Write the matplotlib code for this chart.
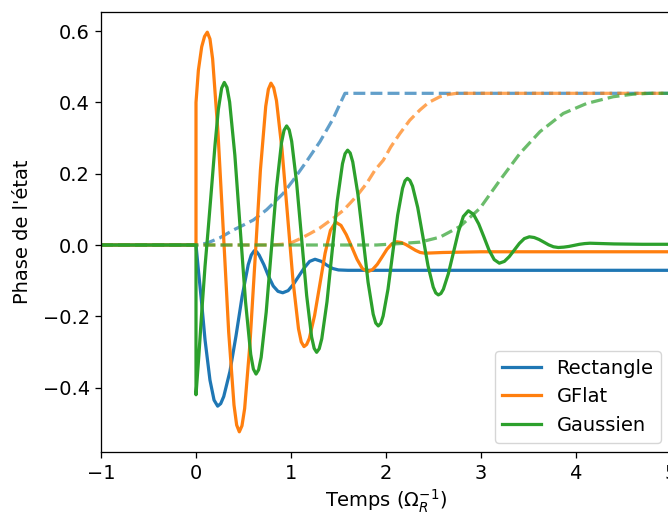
import matplotlib
matplotlib.use("Agg")
import matplotlib.pyplot as plt

# values
LABELS = ["Rectangle", "GFlat", "Gaussien"]

# Rectangle: phase (solid) and accumulated phase (dashed)
rect_t = [-1, 0, 0.025, 0.06, 0.095, 0.147, 0.19, 0.228, 0.26, 0.292, 0.357, 0.421, 0.485, 0.550,
          0.582, 0.614, 0.639, 0.664, 0.714, 0.764, 0.813, 0.863, 0.913, 0.970, 1.026, 1.083,
          1.140, 1.196, 1.253, 1.32, 1.38, 1.44, 1.50, 1.6, 5]
rect_y = [0, 0, -0.07, -0.164, -0.266, -0.379, -0.435, -0.452, -0.445, -0.425, -0.355, -0.255,
          -0.145, -0.055, -0.028, -0.016, -0.019, -0.028, -0.055, -0.088, -0.115, -0.130, -0.134,
          -0.128, -0.110, -0.087, -0.064, -0.046, -0.040, -0.046, -0.057, -0.066, -0.070, -0.071,
          -0.071]
rect_acc_t = [-1, 0, 0.113, 0.25, 0.393, 0.5, 0.603, 0.744, 0.919, 1.024, 1.165, 1.305, 1.445,
              1.516, 1.568, 5]
rect_acc_y = [0, 0, 0.005, 0.02, 0.042, 0.056, 0.070, 0.099, 0.145, 0.182, 0.235, 0.290, 0.355,
              0.396, 0.4255, 0.4255]

# GFlat
gflat_t = [-1, 0, 0, 0.025, 0.06, 0.09, 0.119, 0.147, 0.175, 0.231, 0.288, 0.344, 0.400, 0.428,
           0.456, 0.484, 0.512, 0.567, 0.623, 0.678, 0.734, 0.762, 0.789, 0.818, 0.847, 0.905,
           0.963, 1.021, 1.079, 1.108, 1.137, 1.165, 1.193, 1.248, 1.304, 1.359, 1.415, 1.47,
           1.526, 1.582, 1.639, 1.695, 1.751, 1.807, 1.858, 1.909, 1.960, 2.010, 2.061, 2.112,
           2.162, 2.211, 2.261, 2.311, 2.360, 2.41, 2.6, 3.0, 5]
gflat_y = [0, 0, 0.40, 0.49, 0.556, 0.585, 0.597, 0.578, 0.522, 0.317, 0.037, -0.244, -0.449,
           -0.505, -0.524, -0.507, -0.459, -0.280, -0.035, 0.210, 0.389, 0.437, 0.454, 0.441,
           0.405, 0.269, 0.085, -0.100, -0.235, -0.272, -0.285, -0.279, -0.262, -0.198, -0.110,
           -0.023, 0.041, 0.064, 0.055, 0.029, -0.005, -0.040, -0.066, -0.075, -0.069, -0.054,
           -0.033, -0.012, 0.003, 0.009, 0.007, 0.001, -0.007, -0.015, -0.021, -0.023, -0.021,
           -0.019, -0.019]
gflat_acc_t = [-1, 0, 0.8, 0.9, 1.0, 1.1, 1.2, 1.3, 1.445, 1.55, 1.621, 1.7, 1.797, 1.884, 1.972,
               2.05, 2.147, 2.25, 2.358, 2.45, 2.568, 2.65, 2.744, 5]
gflat_acc_y = [0, 0, 0, 0.002, 0.006, 0.018, 0.032, 0.047, 0.075, 0.097, 0.117, 0.14, 0.173,
               0.21, 0.238, 0.275, 0.313, 0.35, 0.379, 0.40, 0.416, 0.422, 0.4255, 0.4255]

# Gaussien
gauss_t = [-1, 0, 0, 0.03, 0.06, 0.095, 0.13, 0.165, 0.2, 0.235, 0.27, 0.298, 0.326, 0.354,
           0.409, 0.465, 0.521, 0.576, 0.604, 0.632, 0.659, 0.686, 0.739, 0.793, 0.847, 0.900,
           0.927, 0.954, 0.981, 1.007, 1.059, 1.112, 1.165, 1.217, 1.244, 1.27, 1.297, 1.324,
           1.379, 1.433, 1.487, 1.542, 1.569, 1.596, 1.623, 1.650, 1.704, 1.758, 1.811, 1.865,
           1.892, 1.919, 1.945, 1.970, 2.021, 2.072, 2.123, 2.174, 2.200, 2.225, 2.252, 2.279,
           2.334, 2.388, 2.442, 2.497, 2.524, 2.551, 2.578, 2.604, 2.656, 2.709, 2.762, 2.814,
           2.867, 2.921, 2.976, 3.030, 3.084, 3.139, 3.193, 3.246, 3.298, 3.351, 3.404, 3.456,
           3.509, 3.560, 3.611, 3.662, 3.712, 3.763, 3.814, 3.870, 3.925, 3.981, 4.036, 4.092,
           4.147, 4.4, 4.7, 5]
gauss_y = [0, 0, -0.42, -0.31, -0.19, -0.06, 0.05, 0.164, 0.28, 0.38, 0.44, 0.456, 0.442, 0.401,
           0.252, 0.047, -0.158, -0.307, -0.348, -0.362, -0.350, -0.315, -0.188, -0.014, 0.160,
           0.287, 0.322, 0.334, 0.323, 0.291, 0.175, 0.017, -0.142, -0.258, -0.290, -0.301,
           -0.291, -0.263, -0.159, -0.018, 0.124, 0.228, 0.256, 0.266, 0.258, 0.233, 0.143, 0.020,
           -0.104, -0.194, -0.219, -0.227, -0.220, -0.199, -0.124, -0.020, 0.084, 0.159, 0.180,
           0.187, 0.181, 0.165, 0.105, 0.024, -0.058, -0.118, -0.1345, -0.140, -0.136, -0.124,
           -0.081, -0.022, 0.037, 0.080, 0.096, 0.086, 0.059, 0.023, -0.014, -0.041, -0.051,
           -0.046, -0.0325, -0.014, 0.0045, 0.018, 0.023, 0.021, 0.0155, 0.008, 0.0005, -0.005,
           -0.007, -0.006, -0.004, -0.001, 0.002, 0.004, 0.005, 0.003, 0.002, 0.002]
gauss_acc_t = [-1, 0, 1.9, 2.147, 2.358, 2.568, 2.779, 2.989, 3.2, 3.41, 3.621, 3.866, 4.112,
               4.393, 4.6, 4.779, 5]
gauss_acc_y = [0, 0, 0, 0.004, 0.008, 0.022, 0.052, 0.103, 0.182, 0.257, 0.318, 0.369, 0.397,
               0.416, 0.423, 0.4255, 0.4255]

COLORS = ["#1f77b4", "#ff7f0e", "#2ca02c"]
S = 1.16          # reference was rendered at ~116 dpi, we draw at 100
FS = 12 * S

plt.rcParams.update({"font.size": FS,
                     "xtick.major.size": 3.5 * S, "ytick.major.size": 3.5 * S,
                     "xtick.major.width": 0.8 * S, "ytick.major.width": 0.8 * S,
                     "xtick.major.pad": 3.5 * S, "ytick.major.pad": 3.5 * S,
                     "axes.linewidth": 0.8 * S})

fig = plt.figure(figsize=(6.68, 5.16), dpi=100)
ax = fig.add_axes([101 / 668, 63.7 / 516, 570 / 668, 440.3 / 516])

series = [(rect_t, rect_y, rect_acc_t, rect_acc_y),
          (gflat_t, gflat_y, gflat_acc_t, gflat_acc_y),
          (gauss_t, gauss_y, gauss_acc_t, gauss_acc_y)]
for (t, y, ta, ya), lbl, c in zip(series, LABELS, COLORS):
    ax.plot(t, y, color=c, lw=2 * S, label=lbl)
    ax.plot(ta, ya, color=c, lw=2 * S, ls="--", alpha=0.7)

ax.set_xlim(-1, 5)
ax.set_ylim(-0.5815, 0.6536)
ax.set_xticks(range(-1, 6))
ax.set_yticks([-0.4, -0.2, 0.0, 0.2, 0.4, 0.6])
ax.set_xlabel(r"Temps ($\Omega_R^{-1}$)", labelpad=3.5)
ax.set_ylabel("Phase de l'état", labelpad=7.5)
ax.legend(loc="lower right", fontsize=FS)

fig.savefig("out.png", dpi=100)
